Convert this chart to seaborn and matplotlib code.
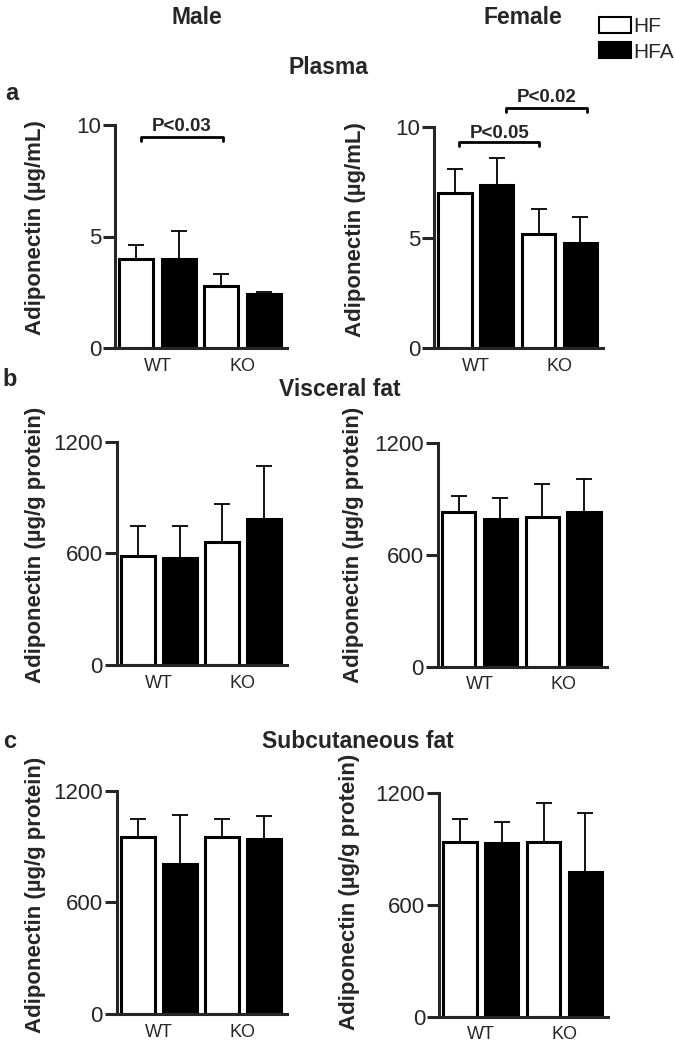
# Adiponectin in plasma, visceral and subcutaneous fat (male / female, WT / KO, HF / HFA)

import numpy as np
import pandas as pd
import matplotlib
matplotlib.use('Agg')
import matplotlib.pyplot as plt
from matplotlib.patches import Patch
import seaborn as sns


# Data (means and upper SEM)

genotypes = ['WT', 'KO']
diets = ['HF', 'HFA']

plasma_male_hf = [4.0, 2.8]
plasma_male_hf_err = [0.62, 0.52]
plasma_male_hfa = [4.0, 2.4]
plasma_male_hfa_err = [1.25, 0.12]

plasma_female_hf = [7.0, 5.15]
plasma_female_hf_err = [1.1, 1.12]
plasma_female_hfa = [7.35, 4.75]
plasma_female_hfa_err = [1.25, 1.19]

visceral_male_hf = [587, 661]
visceral_male_hf_err = [161, 204]
visceral_male_hfa = [573, 783]
visceral_male_hfa_err = [175, 288]

visceral_female_hf = [833, 803]
visceral_female_hf_err = [84, 179]
visceral_female_hfa = [792, 833]
visceral_female_hfa_err = [116, 175]

subcut_male_hf = [949, 949]
subcut_male_hf_err = [97, 97]
subcut_male_hfa = [806, 940]
subcut_male_hfa_err = [265, 122]

subcut_female_hf = [940, 940]
subcut_female_hf_err = [120, 207]
subcut_female_hfa = [935, 779]
subcut_female_hfa_err = [111, 317]


# Style

sns.set_style('ticks')
plt.rcParams['font.family'] = ['Liberation Sans', 'DejaVu Sans']

W, H = 675, 1049
fig = plt.figure(figsize=(W / 100, H / 100), dpi=100)


def add_panel(box, hf, hf_err, hfa, hfa_err, ymax, yticks, ylabel, label_pos):
    x0, x1, ytop, ybot = box
    ax = fig.add_axes([x0 / W, 1 - ybot / H, (x1 - x0) / W, (ybot - ytop) / H])

    df = pd.DataFrame({
        'genotype': genotypes * 2,
        'diet': ['HF'] * 2 + ['HFA'] * 2,
        'value': hf + hfa,
    })
    sns.barplot(data=df, x='genotype', y='value', hue='diet',
                order=genotypes, hue_order=diets,
                palette={'HF': 'white', 'HFA': 'black'}, saturation=1,
                edgecolor='black', linewidth=2.2, width=1.0, gap=0.2,
                errorbar=None, legend=False, ax=ax)

    # upper error bars only
    for bars, err in zip(ax.containers, [hf_err, hfa_err]):
        xs = [b.get_x() + b.get_width() / 2 for b in bars]
        ys = [b.get_height() for b in bars]
        ax.errorbar(xs, ys, yerr=[np.zeros(len(err)), err], fmt='none',
                    ecolor='black', elinewidth=1.3, capsize=5.5, capthick=1.3)

    ax.set_ylim(0, ymax)
    ax.set_yticks(yticks)
    ax.set_xlim(-0.5, 1.52)
    ax.set_xlabel('')
    ax.set_ylabel(ylabel, fontsize=16, fontweight='bold')
    ax.yaxis.label.set_va('center')
    ax.yaxis.set_label_coords(*label_pos)

    sns.despine(ax=ax)
    for side in ['left', 'bottom']:
        ax.spines[side].set_linewidth(2.2)
    ax.tick_params(axis='y', labelsize=16, length=9, width=2.2, pad=1)
    ax.tick_params(axis='x', labelsize=13, length=0, pad=7)
    return ax


def bracket(ax, xa, xb, y, drop, text, ty):
    ax.plot([xa, xa, xb, xb], [y - drop, y, y, y - drop], color='black',
            lw=2, clip_on=False)
    ax.text((xa + xb) / 2, ty, text, ha='center', va='bottom',
            fontsize=13.5, fontweight='bold', clip_on=False)


label_plasma = 'Adiponectin (µg/mL)'
label_tissue = 'Adiponectin (µg/g protein)'

# a: plasma
ax = add_panel((115, 287, 125, 348), plasma_male_hf, plasma_male_hf_err,
               plasma_male_hfa, plasma_male_hfa_err, 10, [0, 5, 10],
               label_plasma, (-0.465, 0.538))
bracket(ax, -0.2, 0.77, 9.45, 0.15, 'P<0.03', 9.55)

ax = add_panel((434, 603, 126.7, 348.3), plasma_female_hf, plasma_female_hf_err,
               plasma_female_hfa, plasma_female_hfa_err, 10, [0, 5, 10],
               label_plasma, (-0.467, 0.538))
bracket(ax, -0.2, 0.76, 9.32, 0.18, 'P<0.05', 9.3)
bracket(ax, 0.36, 1.33, 10.83, 0.18, 'P<0.02', 10.95)

# b: visceral fat
add_panel((116.7, 286.7, 441.7, 665), visceral_male_hf, visceral_male_hf_err,
          visceral_male_hfa, visceral_male_hfa_err, 1200, [0, 600, 1200],
          label_tissue, (-0.48, 0.537))
add_panel((437.7, 606.7, 443.3, 666.7), visceral_female_hf, visceral_female_hf_err,
          visceral_female_hfa, visceral_female_hfa_err, 1200, [0, 600, 1200],
          label_tissue, (-0.50, 0.546))

# c: subcutaneous fat
add_panel((116.7, 286.7, 790.7, 1014), subcut_male_hf, subcut_male_hf_err,
          subcut_male_hfa, subcut_male_hfa_err, 1200, [0, 600, 1200],
          label_tissue, (-0.48, 0.533))
add_panel((439, 608, 793.3, 1016.7), subcut_female_hf, subcut_female_hf_err,
          subcut_female_hfa, subcut_female_hfa_err, 1200, [0, 600, 1200],
          label_tissue, (-0.527, 0.558))


# Titles and panel letters

def fig_text(x, y, s, size=16.5):
    fig.text(x / W, 1 - y / H, s, ha='center', va='center',
             fontsize=size, fontweight='bold')


fig_text(197, 18, 'Male')
fig_text(523, 18, 'Female')
fig_text(328, 67, 'Plasma')
fig_text(340, 390, 'Visceral fat')
fig_text(358, 741, 'Subcutaneous fat')
fig_text(12, 94, 'a', 17)
fig_text(10, 379, 'b', 17)
fig_text(10, 741, 'c', 17)

# Legend
handles = [Patch(facecolor='white', edgecolor='black', linewidth=1.5, label='HF'),
           Patch(facecolor='black', edgecolor='black', linewidth=1.5, label='HFA')]
fig.legend(handles=handles, loc='upper left', bbox_to_anchor=(599 / W, 1 - 17 / H),
           frameon=False, fontsize=15, handlelength=1.55, handleheight=0.8,
           handletextpad=0.1, labelspacing=0.3, borderpad=0, borderaxespad=0)

plt.savefig('out.png', dpi=100)
